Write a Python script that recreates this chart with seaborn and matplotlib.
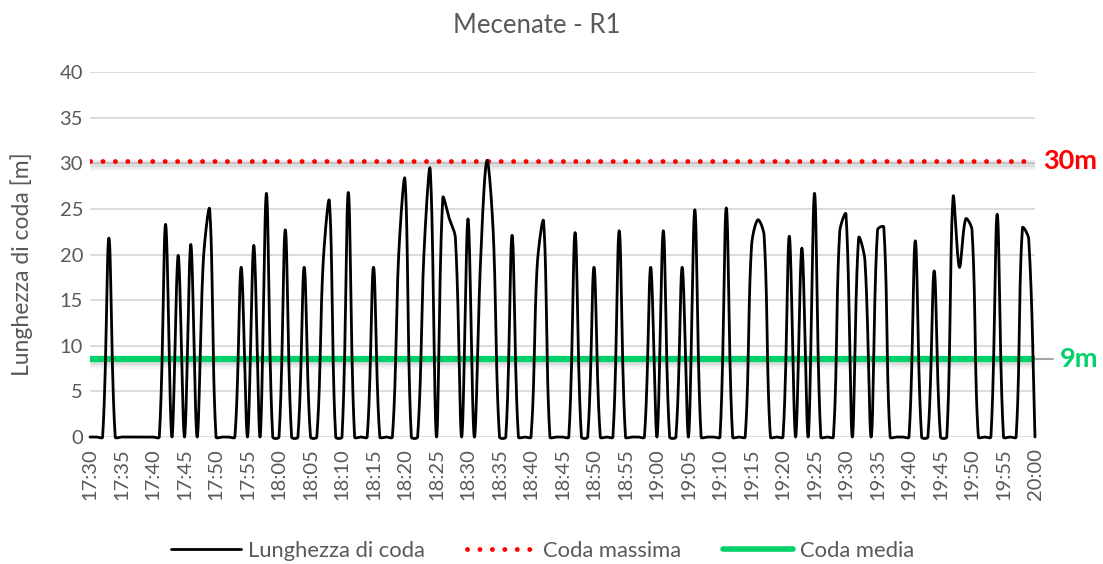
import numpy as np
import pandas as pd
import matplotlib
matplotlib.use("Agg")
import matplotlib.pyplot as plt
import matplotlib.transforms as mtransforms
from matplotlib.lines import Line2D
import seaborn as sns

# queue length [m], one value per minute, 17:30 -> 20:00
coda = [
    0, 0, 0, 21.8, 0, 0, 0, 0, 0, 0,            # 17:30
    0, 0, 23.3, 0, 19.9, 0, 21.1, 0, 19.5, 24.9,  # 17:40
    0, 0, 0, 0, 18.6, 0, 21.0, 0, 26.7, 0,       # 17:50
    0, 22.7, 0, 0, 18.6, 0, 0, 19.0, 25.8, 0,    # 18:00
    0, 26.8, 0, 0, 0, 18.6, 0, 0, 0, 20.0,       # 18:10
    28.2, 0, 0, 20.0, 29.3, 0, 26.2, 24.0, 21.8, 0,  # 18:20
    23.9, 0, 19.4, 30.3, 22.5, 0, 0, 22.1, 0, 0,     # 18:30
    0, 19.0, 23.6, 0, 0, 0, 0, 22.4, 0, 0,       # 18:40
    18.6, 0, 0, 0, 22.6, 0, 0, 0, 0, 18.6,       # 18:50
    0, 22.6, 0, 0, 18.6, 0, 24.9, 0, 0, 0,       # 19:00
    0, 25.1, 0, 0, 0, 20.9, 23.8, 22.1, 0, 0,    # 19:10
    0, 22.0, 0, 20.7, 0, 26.7, 0, 0, 0, 22.5,    # 19:20
    24.4, 0, 21.8, 19.4, 0, 22.7, 23.0, 0, 0, 0, # 19:30
    0, 21.5, 0, 0, 18.2, 0, 0, 26.3, 18.6, 23.9, # 19:40
    22.7, 0, 0, 0, 24.4, 0, 0, 0, 22.9, 21.7,    # 19:50
    0,                                           # 20:00
]
coda_massima = 30.3
coda_media = 8.5
orari = ["17:30", "17:35", "17:40", "17:45", "17:50", "17:55",
         "18:00", "18:05", "18:10", "18:15", "18:20", "18:25",
         "18:30", "18:35", "18:40", "18:45", "18:50", "18:55",
         "19:00", "19:05", "19:10", "19:15", "19:20", "19:25",
         "19:30", "19:35", "19:40", "19:45", "19:50", "19:55", "20:00"]

GRAY = "#595959"
RED = "#FF0000"
GREEN = "#00D26A"


def excel_smooth(x, y, sx=6.3, sy=9.125, n=24):
    # smoothed line like Excel: bezier through the points, handles from neighbours
    # scaled by segment lengths (measured on screen) so short segments don't overshoot
    x = np.asarray(x, float)
    y = np.asarray(y, float)
    P = np.c_[x * sx, y * sy]
    Pp = np.r_[P[:1], P, P[-1:]]
    t = np.linspace(0, 1, n, endpoint=False)[:, None]
    out = []
    for i in range(len(x) - 1):
        p0, p1, p2, p3 = Pp[i], Pp[i + 1], Pp[i + 2], Pp[i + 3]
        d01 = np.hypot(*(p1 - p0))
        d12 = np.hypot(*(p2 - p1))
        d23 = np.hypot(*(p3 - p2))
        f1 = d12 / (d01 + d12) / 3 if d01 + d12 > 0 else 0
        f2 = d12 / (d12 + d23) / 3 if d12 + d23 > 0 else 0
        c1 = p1 + (p2 - p0) * f1
        c2 = p2 - (p3 - p1) * f2
        b = (1 - t) ** 3 * p1 + 3 * (1 - t) ** 2 * t * c1 + 3 * (1 - t) * t ** 2 * c2 + t ** 3 * p2
        out.append(b)
    out.append(P[-1:])
    out = np.concatenate(out)
    return out[:, 0] / sx, out[:, 1] / sy


minuti = np.arange(len(coda))
smx, smy = excel_smooth(minuti, coda)
df = pd.DataFrame({"minuto": smx, "coda": smy})

sns.set_theme(style="white")
plt.rcParams["font.family"] = ["Lato", "DejaVu Sans"]

fig = plt.figure(figsize=(11.03, 5.64), dpi=100)
ax = fig.add_axes([90 / 1103, 1 - 437 / 564, (1035 - 90) / 1103, (437 - 72) / 564])

# shadows under the reference lines
for k, a in [(2, 0.10), (4, 0.07), (6, 0.04)]:
    off = mtransforms.ScaledTranslation(0, -k / 100, fig.dpi_scale_trans)
    for v in (coda_massima, coda_media):
        ax.plot([0, len(coda) - 1], [v, v], color="0.35", lw=5, alpha=a,
                transform=ax.transData + off, solid_capstyle="butt", zorder=2)

ax.axhline(coda_massima, xmin=0, xmax=0.995, color=RED, lw=3.5,
           linestyle=(0, (0.01, 2.55)), dash_capstyle="round", zorder=3)
ax.axhline(coda_media, color=GREEN, lw=4.5, zorder=3)

sns.lineplot(data=df, x="minuto", y="coda", ax=ax, color="black", lw=2.0,
             sort=False, estimator=None, zorder=4)
ax.lines[-1].set_clip_on(False)

ax.set_xlim(0, len(coda) - 1)
ax.set_ylim(0, 40)
ax.set_yticks(range(0, 41, 5))
ax.set_xticks(range(0, len(coda), 5))
ax.set_xticklabels(orari, rotation=90)
ax.tick_params(axis="both", length=0, labelsize=14.5, colors=GRAY)
ax.tick_params(axis="x", pad=8)
ax.tick_params(axis="y", pad=5)
ax.set_xlabel("")
ax.set_ylabel("Lunghezza di coda [m]", fontsize=16.5, color=GRAY)
ax.yaxis.set_label_coords(-0.060, 0.474)
ax.grid(axis="y", color="#D9D9D9", lw=1.3)
ax.grid(axis="x", visible=False)
for s in ax.spines.values():
    s.set_visible(False)
ax.set_axisbelow(True)

fig.text(0.487, 0.954, "Mecenate - R1", ha="center", va="center",
         fontsize=18.5, color=GRAY)

# labels at the right of the reference lines
ax.annotate("30m", xy=(1.0, coda_massima), xycoords=("axes fraction", "data"),
            xytext=(6, 0), textcoords="offset points", ha="left", va="center",
            fontsize=19.5, fontweight="bold", color=RED, annotation_clip=False)
ax.plot([len(coda) - 1, len(coda) + 1.8], [coda_media, coda_media], color="#A6A6A6",
        lw=1.5, clip_on=False, zorder=2)
ax.annotate("9m", xy=(1.0, coda_media), xycoords=("axes fraction", "data"),
            xytext=(18, 0), textcoords="offset points", ha="left", va="center",
            fontsize=19.5, fontweight="bold", color=GREEN, annotation_clip=False)

handles = [
    Line2D([], [], color="black", lw=2.0),
    Line2D([], [], color=RED, lw=3.5, linestyle=(0, (0.01, 2.55)), dash_capstyle="round"),
    Line2D([], [], color=GREEN, lw=4.0, solid_capstyle="round"),
]
fig.legend(handles, ["Lunghezza di coda", "Coda massima", "Coda media"],
           loc="center", bbox_to_anchor=(0.492, 0.023), ncol=3, frameon=False,
           fontsize=15.8, handlelength=3.2, handletextpad=0.3, columnspacing=1.9,
           labelcolor=GRAY)

fig.savefig("out.png", dpi=100)
